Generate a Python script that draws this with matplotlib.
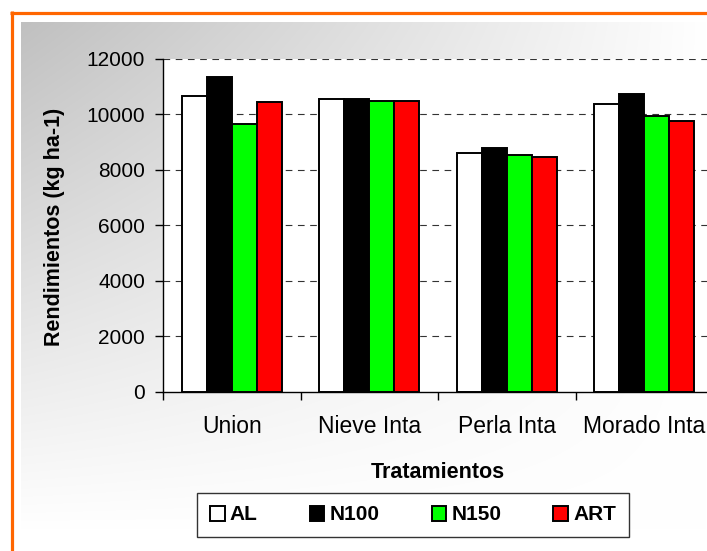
import numpy as np
import matplotlib
matplotlib.use("Agg")
import matplotlib.pyplot as plt
from matplotlib.patches import Patch

plt.rcParams['font.family'] = ['Liberation Sans', 'DejaVu Sans']

categories = ["Union", "Nieve Inta", "Perla Inta", "Morado Inta"]
series_names = ["AL", "N100", "N150", "ART"]
AL = [10680, 10560, 8600, 10380]
N100 = [11340, 10570, 8800, 10740]
N150 = [9660, 10470, 8520, 9930]
ART = [10450, 10470, 8460, 9750]
series_values = [AL, N100, N150, ART]
colors = ["#FFFFFF", "#000000", "#00FF00", "#FF0000"]
yticks = [0, 2000, 4000, 6000, 8000, 10000, 12000]

W, H = 707, 551
fig = plt.figure(figsize=(W / 100, H / 100), dpi=100)
fig.patch.set_facecolor("white")

# background: gradient panel + orange frame
bg = fig.add_axes([0, 0, 1, 1], zorder=-5)
bg.set_xlim(0, W)
bg.set_ylim(H, 0)
bg.axis("off")
gx0, gx1, gy0, gy1 = 21, 707, 22, 530
u = np.linspace(0, 1, 300)
v = np.linspace(0, 1, 300)
U, V = np.meshgrid(u, v)
dark = (1 - U) * (1 - V)
val = (255 - 63 * dark) / 255.0
img = np.dstack([val, val, val])
bg.imshow(img, extent=[gx0, gx1, gy1, gy0], aspect="auto", interpolation="bilinear")
bg.plot([11.5, 11.5], [11, H + 5], color="#FF6600", lw=2.3, solid_capstyle="butt")
bg.plot([10, W + 5], [12.5, 12.5], color="#FF6600", lw=2.3, solid_capstyle="butt")

# main axes
left, right, top, bottom = 163, 713, 59, 391.7
ax = fig.add_axes([left / W, 1 - bottom / H, (right - left) / W, (bottom - top) / H])
ax.set_facecolor("white")

x = np.arange(len(categories))
w = 0.182
for i, (name, vals, c) in enumerate(zip(series_names, series_values, colors)):
    ax.bar(x + (i - 1.5) * w, vals, width=w, color=c, edgecolor="black",
           linewidth=1.4, zorder=3, label=name)

ax.set_xlim(-0.5, len(categories) - 0.5)
ax.set_ylim(0, 12000)
ax.set_yticks(yticks)
ax.set_yticklabels([str(t) for t in yticks], fontsize=15)
for yv in yticks[1:]:
    ax.axhline(yv, color="#333333", lw=0.8, ls=(0, (6, 5)), zorder=1)

ax.set_xticks(np.arange(len(categories) + 1) - 0.5)
ax.set_xticklabels([])
ax.set_xticks(x, minor=True)
ax.set_xticklabels(categories, minor=True, fontsize=16.5)
ax.tick_params(axis="x", which="major", length=6, width=1, direction="out")
ax.tick_params(axis="x", which="minor", length=0, pad=17)
ax.tick_params(axis="y", length=6, width=1, direction="out", pad=7)

for s in ["top", "right"]:
    ax.spines[s].set_visible(False)
for s in ["left", "bottom"]:
    ax.spines[s].set_color("black")
    ax.spines[s].set_linewidth(1)

fig.text(55 / W, 1 - 227 / H, "Rendimientos (kg ha-1)", rotation=90,
         ha="center", va="center", fontsize=15.5, fontweight="bold")
fig.text(437.5 / W, 1 - 472 / H, "Tratamientos", ha="center", va="center",
         fontsize=15.5, fontweight="bold")

handles = [Patch(facecolor=c, edgecolor="black", linewidth=1.4) for c in colors]
leg = fig.legend(handles, series_names, loc="center", bbox_to_anchor=(413 / W, 1 - 515 / H),
                 ncol=4, frameon=True, fancybox=False, shadow=False,
                 prop={"size": 15, "weight": "bold"}, handlelength=0.7,
                 handleheight=0.7, handletextpad=0.25, columnspacing=2.5,
                 borderpad=0.6)
leg.get_frame().set_edgecolor("#333333")
leg.get_frame().set_linewidth(1)
leg.get_frame().set_facecolor("white")
leg.get_frame().set_alpha(1)

fig.savefig("out.png", dpi=100)
